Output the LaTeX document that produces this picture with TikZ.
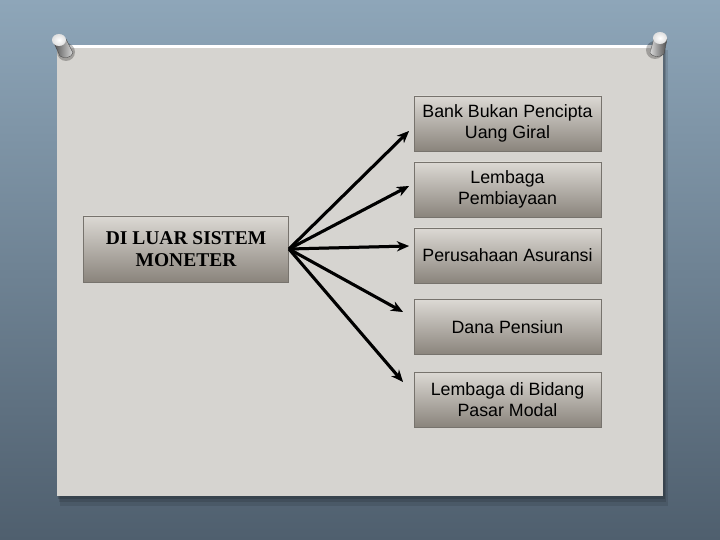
\documentclass[tikz,border=0pt]{standalone}
\usepackage{fontspec}
\setmainfont{Liberation Serif}
\newfontfamily\arialf{Liberation Sans}
\usetikzlibrary{arrows.meta}
\definecolor{bgtop}{HTML}{8EA6B9}
\definecolor{bgmid}{HTML}{7D93A6}
\definecolor{bgbot}{HTML}{4F5F6E}
\definecolor{paper}{HTML}{D6D4D0}
\definecolor{boxtop}{HTML}{DCD9D4}
\definecolor{boxmid}{HTML}{C6C2BC}
\definecolor{boxbot}{HTML}{8A847C}
\definecolor{boxedge}{HTML}{77736D}
\definecolor{arrshadow}{HTML}{8C8C8C}
\begin{document}
\begin{tikzpicture}[x=1pt,y=-1pt,
  boxr/.style={draw=boxedge, line width=0.9pt, top color=boxtop, middle color=boxmid, bottom color=boxbot,
    minimum width=187pt, minimum height=55pt, inner sep=0pt, align=center,
    font=\arialf\fontsize{17.8}{21}\selectfont, text=black},
  boxl/.style={draw=boxedge, line width=0.9pt, top color=boxtop, middle color=boxmid, bottom color=boxbot,
    minimum width=205pt, minimum height=66pt, inner sep=0pt, align=center,
    font=\bfseries\fontsize{19.5}{22.5}\selectfont, text=black},
  conn/.style={line width=3pt, black, -{Stealth[length=12pt,width=10pt]}},
  connsh/.style={line width=3pt, arrshadow, -{Stealth[length=12pt,width=10pt]}}
]
% background
\useasboundingbox (0,0) rectangle (720,540);
\shade[top color=bgtop, middle color=bgmid, bottom color=bgbot] (0,0) rectangle (720,540);
% panel shadow
\fill[black, opacity=0.10] (60,50) rectangle (668,506);
\fill[black, opacity=0.12] (59,49) rectangle (666,502);
\fill[black, opacity=0.15] (58,48) rectangle (665,499);
% panel
\fill[paper] (57,45) rectangle (663,496);
\fill[white] (57,45) rectangle (663,48);
% pins
\fill[black, opacity=0.25] (66,52) circle (9);
\fill[black, opacity=0.25] (655,50) circle (9);
\shade[left color=gray!60!black, right color=gray!30, draw=gray!50!black, line width=0.3pt]
  (53,41) -- (66,39) -- (73,53) .. controls (71,58) and (64,59) .. (60,56) -- cycle;
\shade[inner color=white, outer color=gray!25] (59,40) ellipse (7 and 6);
\shade[left color=gray!30, right color=gray!60!black, draw=gray!50!black, line width=0.3pt]
  (654,38) -- (667,39) -- (664,54) .. controls (660,58) and (652,57) .. (650,53) -- cycle;
\shade[inner color=white, outer color=gray!25] (660,38) ellipse (7 and 6);
% boxes
\node[boxl] (src) at (186,249) {DI LUAR SISTEM\\MONETER};
\node[boxr] (b1) at (507.5,123.5) {Bank Bukan Pencipta\\Uang Giral};
\node[boxr] (b2) at (507.5,189.5) {Lembaga\\Pembiayaan};
\node[boxr] (b3) at (507.5,255.5) {Perusahaan Asuransi};
\node[boxr] (b4) at (507.5,327) {Dana Pensiun};
\node[boxr] (b5) at (507.5,399.5) {Lembaga di Bidang\\Pasar Modal};
% arrow end points
\coordinate (s) at (src.east);
\coordinate (t1) at (409,131);
\coordinate (t2) at (409,186);
\coordinate (t3) at (409,246);
\coordinate (t4) at (403,312);
\coordinate (t5) at (403,382);
% shadows
\begin{scope}[shift={(-4,-3)}]
\foreach \t in {t1,t2,t3,t4,t5} \draw[connsh] (s) -- (\t);
\end{scope}
\foreach \t in {t1,t2,t3,t4,t5} \draw[conn] (s) -- (\t);
\end{tikzpicture}
\end{document}
